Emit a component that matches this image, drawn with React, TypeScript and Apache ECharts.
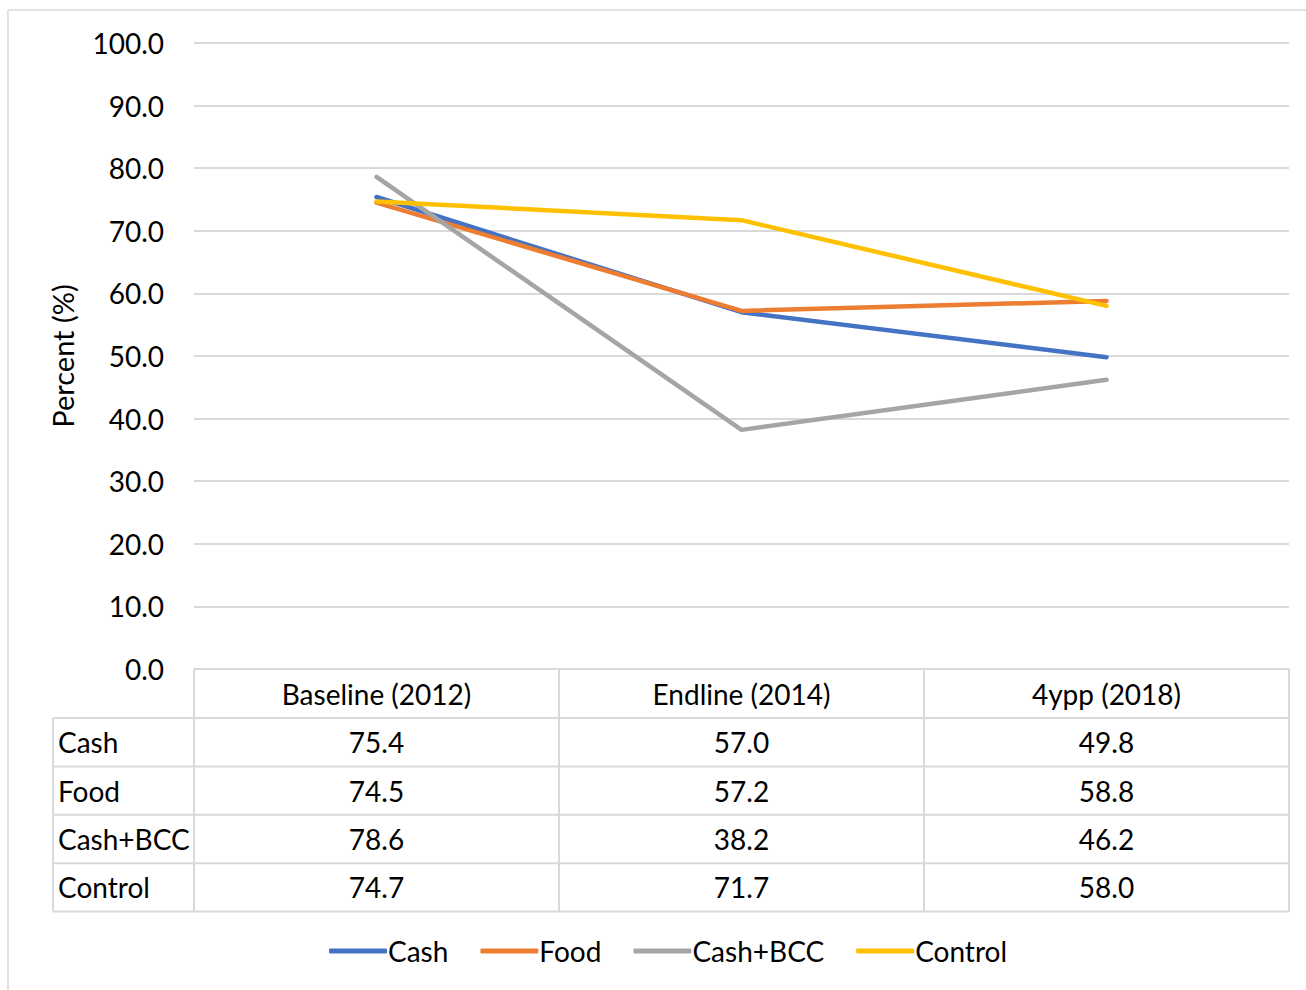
import React, { useEffect, useRef } from "react";
import * as echarts from "echarts";

const categories = ["Baseline (2012)", "Endline (2014)", "4ypp (2018)"];
const seriesNames = ["Cash", "Food", "Cash+BCC", "Control"];
const cash = [75.4, 57.0, 49.8];
const food = [74.5, 57.2, 58.8];
const cashBcc = [78.6, 38.2, 46.2];
const control = [74.7, 71.7, 58.0];
const colors = ["#4472C4", "#ED7D31", "#A5A5A5", "#FFC000"];
const yTicks = [0, 10, 20, 30, 40, 50, 60, 70, 80, 90, 100];

const FONT = "Lato";
const FS = 28;

export default function App() {
  const ref = useRef<HTMLDivElement>(null);
  useEffect(() => {
    document.body.style.margin = "0";
    const chart = echarts.init(ref.current!, null, { renderer: "svg" });
    const values = [cash, food, cashBcc, control];

    const W = 1306;
    const gridLeft = 194;
    const gridRight = 1289;
    const gridTop = 43;
    const gridBottom = 669;
    const labelLeft = 53;
    const rowH = 48.4;
    const headerBottom = 718;
    const colW = (gridRight - gridLeft) / categories.length;
    const lineColor = "#d9d9d9";

    const graphics: any[] = [];
    graphics.push({ type: "line", shape: { x1: 8, y1: 10, x2: W + 5, y2: 10 }, style: { stroke: lineColor, lineWidth: 1.5 } });
    graphics.push({ type: "line", shape: { x1: 8, y1: 10, x2: 8, y2: 995 }, style: { stroke: lineColor, lineWidth: 1.5 } });

    const nRows = seriesNames.length;
    const tableBottom = headerBottom + rowH * nRows;
    graphics.push({ type: "line", shape: { x1: gridLeft, y1: gridBottom, x2: gridRight, y2: gridBottom }, style: { stroke: lineColor, lineWidth: 2 } });
    for (let r = 0; r <= nRows; r++) {
      const y = headerBottom + r * rowH;
      graphics.push({ type: "line", shape: { x1: labelLeft, y1: y, x2: gridRight, y2: y }, style: { stroke: lineColor, lineWidth: 2 } });
    }
    for (let c = 0; c <= categories.length; c++) {
      const x = gridLeft + c * colW;
      graphics.push({ type: "line", shape: { x1: x, y1: gridBottom, x2: x, y2: tableBottom }, style: { stroke: lineColor, lineWidth: 2 } });
    }
    graphics.push({ type: "line", shape: { x1: labelLeft, y1: headerBottom, x2: labelLeft, y2: tableBottom }, style: { stroke: lineColor, lineWidth: 2 } });

    categories.forEach((cat, c) => {
      graphics.push({
        type: "text",
        x: gridLeft + (c + 0.5) * colW,
        y: (gridBottom + headerBottom) / 2,
        style: { text: cat, fill: "#000", font: `${FS}px ${FONT}`, textAlign: "center", textVerticalAlign: "middle" },
      });
    });
    seriesNames.forEach((name, r) => {
      const yc = headerBottom + (r + 0.5) * rowH;
      graphics.push({
        type: "text",
        x: labelLeft + 5,
        y: yc,
        style: { text: name, fill: "#000", font: `${FS}px ${FONT}`, textAlign: "left", textVerticalAlign: "middle" },
      });
      values[r].forEach((v, c) => {
        graphics.push({
          type: "text",
          x: gridLeft + (c + 0.5) * colW,
          y: yc,
          style: { text: v.toFixed(1), fill: "#000", font: `${FS}px ${FONT}`, textAlign: "center", textVerticalAlign: "middle" },
        });
      });
    });

    chart.setOption({
      animation: false,
      backgroundColor: "#fff",
      color: colors,
      grid: { left: gridLeft, right: W - gridRight, top: gridTop, bottom: 990 - gridBottom, containLabel: false },
      xAxis: {
        type: "category",
        data: categories,
        boundaryGap: true,
        axisLine: { show: false },
        axisTick: { show: false },
        axisLabel: { show: false },
      },
      yAxis: {
        type: "value",
        min: 0,
        max: 100,
        interval: 10,
        name: "Percent (%)",
        nameLocation: "middle",
        nameGap: 117,
        nameTextStyle: { fontFamily: FONT, fontSize: 29, color: "#000" },
        axisLine: { show: false },
        axisTick: { show: false },
        axisLabel: {
          fontFamily: FONT,
          fontSize: FS,
          color: "#000",
          margin: 30,
          formatter: (v: number) => (yTicks.includes(v) ? v.toFixed(1) : ""),
        },
        splitLine: { lineStyle: { color: lineColor, width: 2 } },
      },
      legend: {
        left: 329,
        top: 937,
        padding: 0,
        itemWidth: 58,
        itemHeight: 5,
        itemGap: 32,
        icon: "roundRect",
        textStyle: { fontFamily: FONT, fontSize: FS, color: "#000", padding: [0, 0, 0, -4] },
        data: seriesNames,
      },
      series: seriesNames.map((name, i) => ({
        name,
        type: "line",
        data: values[i],
        symbol: "none",
        lineStyle: { width: 4.5, color: colors[i], cap: "round", join: "round" },
        itemStyle: { color: colors[i] },
      })),
      graphic: graphics,
    });
    return () => chart.dispose();
  }, []);
  return <div ref={ref} style={{ width: 1306, height: 990 }} />;
}
